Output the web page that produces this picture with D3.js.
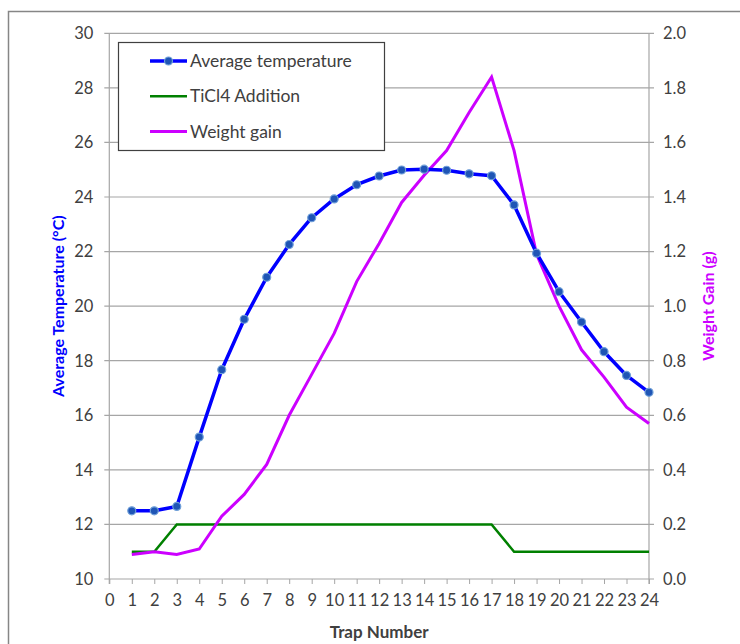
<!DOCTYPE html>
<html>
<head>
<meta charset="utf-8">
<script src="https://cdn.jsdelivr.net/npm/d3@7"></script>
<style>
  body { margin: 0; background: #fff; }
  text { font-family: Lato, "Open Sans", sans-serif; fill: #404040; }
  .axis path { display: none; }
  .axis line { stroke: #a6a6a6; }
</style>
</head>
<body>
<script>
// trap numbers and readings taken off the chart
var traps = [1,2,3,4,5,6,7,8,9,10,11,12,13,14,15,16,17,18,19,20,21,22,23,24];
var temperature = [12.5,12.5,12.66,15.2,17.67,19.52,21.06,22.26,23.24,23.93,24.45,24.77,
                   24.99,25.02,24.98,24.85,24.78,23.71,21.94,20.53,19.42,18.33,17.46,16.84];
var ticl4 = [0.1,0.1,0.2,0.2,0.2,0.2,0.2,0.2,0.2,0.2,0.2,0.2,0.2,0.2,0.2,0.2,0.2,
             0.1,0.1,0.1,0.1,0.1,0.1,0.1];
var weightGain = [0.09,0.10,0.09,0.11,0.23,0.31,0.42,0.60,0.75,0.90,1.09,1.23,
                  1.38,1.48,1.57,1.71,1.84,1.57,1.19,1.00,0.84,0.74,0.63,0.57];
var xTicks = d3.range(0, 25);
var leftTicks = [10,12,14,16,18,20,22,24,26,28,30];
var rightTicks = [0,0.2,0.4,0.6,0.8,1.0,1.2,1.4,1.6,1.8,2.0];
var legendNames = ["Average temperature", "TiCl4 Addition", "Weight gain"];

var width = 740, height = 644;
var plot = {left: 109.3, right: 649, top: 33.3, bottom: 579};

var svg = d3.select("body").append("svg")
    .attr("width", width)
    .attr("height", height);

// chart frame (runs off the right and bottom edge)
svg.append("rect")
    .attr("x", 8.5).attr("y", 11.5)
    .attr("width", 760).attr("height", 660)
    .attr("fill", "none").attr("stroke", "#868686").attr("stroke-width", 1.5);

var x = d3.scaleLinear().domain([0, 24]).range([plot.left, plot.right]);
var yL = d3.scaleLinear().domain([10, 30]).range([plot.bottom, plot.top]);
var yR = d3.scaleLinear().domain([0, 2]).range([plot.bottom, plot.top]);

// gridlines
svg.append("g")
    .selectAll("line")
    .data(leftTicks)
    .enter().append("line")
    .attr("x1", plot.left - 5).attr("x2", plot.right + 5)
    .attr("y1", d => yL(d)).attr("y2", d => yL(d))
    .attr("stroke", "#a6a6a6").attr("stroke-width", 1.2);

// left and right axis lines
svg.append("line")
    .attr("x1", plot.left).attr("x2", plot.left)
    .attr("y1", plot.top).attr("y2", plot.bottom + 5)
    .attr("stroke", "#a6a6a6").attr("stroke-width", 1.2);
svg.append("line")
    .attr("x1", plot.right).attr("x2", plot.right)
    .attr("y1", plot.top).attr("y2", plot.bottom + 5)
    .attr("stroke", "#a6a6a6").attr("stroke-width", 1.2);

// x axis
var xAxis = svg.append("g")
    .attr("class", "axis")
    .attr("transform", "translate(0," + plot.bottom + ")")
    .call(d3.axisBottom(x).tickValues(xTicks).tickSize(5).tickPadding(10).tickFormat(d3.format("d")));
xAxis.selectAll("text").style("font-size", "16.5px").attr("fill", "#404040");

// left axis labels
var leftAxis = svg.append("g")
    .attr("class", "axis")
    .attr("transform", "translate(" + plot.left + ",0)")
    .call(d3.axisLeft(yL).tickValues(leftTicks).tickSize(0).tickPadding(16).tickFormat(d3.format("d")));
leftAxis.selectAll("text").style("font-size", "16.5px").attr("fill", "#404040");
leftAxis.selectAll("line").remove();

// right axis labels
var rightAxis = svg.append("g")
    .attr("class", "axis")
    .attr("transform", "translate(" + plot.right + ",0)")
    .call(d3.axisRight(yR).tickValues(rightTicks).tickSize(0).tickPadding(14).tickFormat(d3.format(".1f")));
rightAxis.selectAll("text").style("font-size", "16.5px").attr("fill", "#404040");
rightAxis.selectAll("line").remove();

// axis titles
svg.append("text")
    .attr("x", (plot.left + plot.right) / 2).attr("y", 638)
    .attr("text-anchor", "middle")
    .style("font-size", "17px").style("font-weight", "bold")
    .text("Trap Number");

svg.append("text")
    .attr("transform", "translate(64," + (plot.top + plot.bottom) / 2 + ") rotate(-90)")
    .attr("text-anchor", "middle")
    .style("font-size", "16px").style("font-weight", "bold")
    .style("fill", "#0000ff")
    .text("Average Temperature (°C)");

svg.append("text")
    .attr("transform", "translate(714," + (plot.top + plot.bottom) / 2 + ") rotate(-90)")
    .attr("text-anchor", "middle")
    .style("font-size", "16px").style("font-weight", "bold")
    .style("fill", "#cc00ff")
    .text("Weight Gain (g)");

// series
var lineL = d3.line().x((d, i) => x(traps[i])).y(d => yL(d));
var lineR = d3.line().x((d, i) => x(traps[i])).y(d => yR(d));

svg.append("path")
    .datum(ticl4)
    .attr("d", lineR)
    .attr("fill", "none").attr("stroke", "#008000").attr("stroke-width", 2.5);

svg.append("path")
    .datum(weightGain)
    .attr("d", lineR)
    .attr("fill", "none").attr("stroke", "#cc00ff").attr("stroke-width", 3);

svg.append("path")
    .datum(temperature)
    .attr("d", lineL)
    .attr("fill", "none").attr("stroke", "#0000ff").attr("stroke-width", 3.5)
    .attr("stroke-linejoin", "round");

svg.selectAll(".dot")
    .data(temperature)
    .enter().append("circle")
    .attr("class", "dot")
    .attr("cx", (d, i) => x(traps[i]))
    .attr("cy", d => yL(d))
    .attr("r", 4)
    .attr("fill", "#1f55b5")
    .attr("stroke", "#6f9fd8")
    .attr("stroke-width", 1.2);

// legend
var legend = svg.append("g");
legend.append("rect")
    .attr("x", 118.5).attr("y", 42.5)
    .attr("width", 266).attr("height", 108)
    .attr("fill", "#fff").attr("stroke", "#404040").attr("stroke-width", 1.2);

var legendColors = ["#0000ff", "#008000", "#cc00ff"];
var legendWidths = [3.5, 2.5, 3];
var rows = legend.selectAll(".row")
    .data(legendNames)
    .enter().append("g")
    .attr("transform", (d, i) => "translate(0," + (61 + i * 35.3) + ")");
rows.append("line")
    .attr("x1", 150).attr("x2", 187)
    .attr("stroke", (d, i) => legendColors[i])
    .attr("stroke-width", (d, i) => legendWidths[i]);
rows.filter((d, i) => i === 0).append("circle")
    .attr("cx", 168.5).attr("r", 4)
    .attr("fill", "#1f55b5").attr("stroke", "#6f9fd8").attr("stroke-width", 1.2);
rows.append("text")
    .attr("x", 190).attr("dy", "0.35em")
    .style("font-size", "17.5px")
    .text(d => d);
</script>
</body>
</html>
